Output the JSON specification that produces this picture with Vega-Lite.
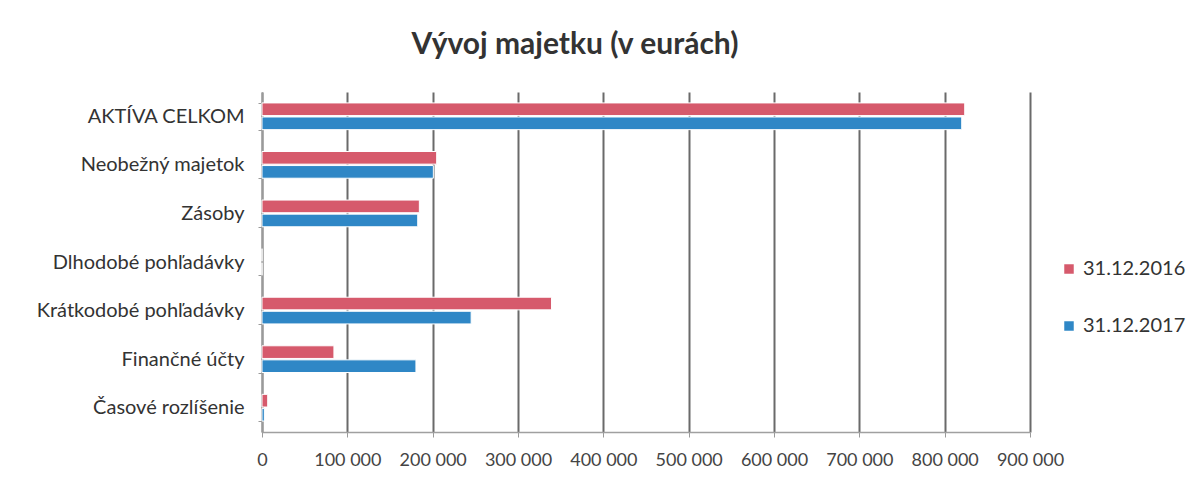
{
  "$schema": "https://vega.github.io/schema/vega-lite/v6.json",
  "autosize": "none",
  "width": 768,
  "height": 340,
  "padding": {"left": 262, "top": 92, "right": 170, "bottom": 71},
  "background": "white",
  "config": {
    "locale": {"number": {"decimal": ",", "thousands": " ", "grouping": [3], "currency": ["", " €"]}},
    "view": {"stroke": null},
    "font": "Lato"
  },
  "title": {
    "text": "Vývoj majetku (v eurách)",
    "font": "Lato",
    "fontSize": 30,
    "fontWeight": "bold",
    "color": "#333333",
    "anchor": "middle",
    "dx": -71,
    "offset": 22
  },
  "data": {
    "values": [
      {"polozka": "AKTÍVA CELKOM", "obdobie": "31.12.2016", "hodnota": 823500},
      {"polozka": "AKTÍVA CELKOM", "obdobie": "31.12.2017", "hodnota": 820000},
      {"polozka": "Neobežný majetok", "obdobie": "31.12.2016", "hodnota": 204700},
      {"polozka": "Neobežný majetok", "obdobie": "31.12.2017", "hodnota": 200800},
      {"polozka": "Zásoby", "obdobie": "31.12.2016", "hodnota": 184400},
      {"polozka": "Zásoby", "obdobie": "31.12.2017", "hodnota": 182500},
      {"polozka": "Dlhodobé pohľadávky", "obdobie": "31.12.2016", "hodnota": 0},
      {"polozka": "Dlhodobé pohľadávky", "obdobie": "31.12.2017", "hodnota": 0},
      {"polozka": "Krátkodobé pohľadávky", "obdobie": "31.12.2016", "hodnota": 339300},
      {"polozka": "Krátkodobé pohľadávky", "obdobie": "31.12.2017", "hodnota": 245100},
      {"polozka": "Finančné účty", "obdobie": "31.12.2016", "hodnota": 84300},
      {"polozka": "Finančné účty", "obdobie": "31.12.2017", "hodnota": 180400},
      {"polozka": "Časové rozlíšenie", "obdobie": "31.12.2016", "hodnota": 6700},
      {"polozka": "Časové rozlíšenie", "obdobie": "31.12.2017", "hodnota": 2800}
    ]
  },
  "mark": {"type": "bar", "stroke": "white", "strokeWidth": 1},
  "encoding": {
    "y": {
      "field": "polozka",
      "type": "nominal",
      "sort": null,
      "scale": {"paddingInner": 0.45, "paddingOuter": 0.225},
      "axis": {
        "title": null,
        "labelFont": "Lato",
        "labelFontSize": 20,
        "labelLimit": 400,
        "labelColor": "#333333",
        "labelPadding": 14,
        "tickBand": "extent",
        "tickSize": 4,
        "tickColor": "#9a9a9a",
        "domainColor": "#9a9a9a",
        "domainWidth": 1.5,
        "grid": false
      }
    },
    "yOffset": {
      "field": "obdobie",
      "type": "nominal",
      "sort": ["31.12.2016", "31.12.2017"],
      "scale": {"paddingInner": 0.1}
    },
    "x": {
      "field": "hodnota",
      "type": "quantitative",
      "scale": {"domain": [0, 900000], "nice": false},
      "axis": {
        "title": null,
        "values": [0, 100000, 200000, 300000, 400000, 500000, 600000, 700000, 800000, 900000],
        "format": ",d",
        "labelOverlap": false,
        "labelBound": false,
        "labelFlush": false,
        "labelFont": "Lato",
        "labelFontSize": 18,
        "labelColor": "#444444",
        "labelPadding": 14,
        "tickSize": 5,
        "tickColor": "#9a9a9a",
        "domainColor": "#a0a0a0",
        "domainWidth": 1.5,
        "grid": true,
        "gridColor": "#6a6a6a",
        "gridWidth": 2
      }
    },
    "color": {
      "field": "obdobie",
      "type": "nominal",
      "scale": {"domain": ["31.12.2016", "31.12.2017"], "range": ["#d65a6c", "#2f87c6"]},
      "legend": {
        "title": null,
        "orient": "none",
        "legendX": 797,
        "legendY": 167,
        "padding": 0,
        "symbolType": "square",
        "symbolSize": 90,
        "symbolStrokeWidth": 0,
        "labelFont": "Lato",
        "labelFontSize": 20,
        "labelColor": "#333333",
        "labelOffset": 4,
        "rowPadding": 37
      }
    }
  }
}
